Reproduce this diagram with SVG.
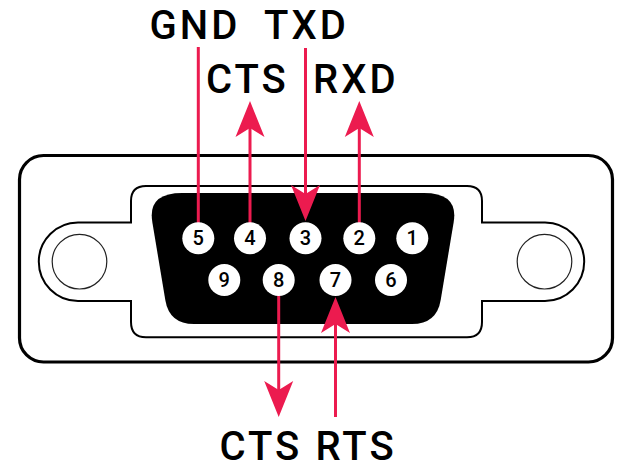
<svg xmlns="http://www.w3.org/2000/svg" width="620" height="468" viewBox="0 0 620 468">
  <style>
    .lbl { font-family: Roboto, "Liberation Sans", sans-serif; font-weight: 500; font-size: 40px; letter-spacing: 3px; fill: #000; }
    .pin circle { fill: #fff; }
    .pin text { font-family: Roboto, "Liberation Sans", sans-serif; font-weight: 500; font-size: 20px; fill: #000; text-anchor: middle; }
    .wire { stroke: #EC1B4F; stroke-width: 3; fill: none; }
  </style>
  <defs>
    <marker id="arr" markerUnits="userSpaceOnUse" markerWidth="40" markerHeight="32" viewBox="-10 -16 40 32" refX="0" refY="0" orient="auto" overflow="visible">
      <path d="M27,0 L-9,14.5 L0,0 L-9,-14.5 Z" fill="#EC1B4F"/>
    </marker>
  </defs>

  <g id="shell">
    <rect x="19.5" y="155.5" width="593" height="206.5" rx="24" ry="24" fill="#fff" stroke="#000" stroke-width="3.2"/>
  </g>
  <g id="flange">
    <path d="M146 186 L467 186 Q482 186 482 201 L482 222.5 L545 222.5 A39.2 39.2 0 0 1 545 300.9 L482 300.9 L482 322 Q482 337.3 467 337.3 L146 337.3 Q131 337.3 131 322 L131 300.9 L78 300.9 A39.2 39.2 0 0 1 78 222.5 L131 222.5 L131 201 Q131 186 146 186 Z" fill="#fff" stroke="#000" stroke-width="2"/>
    <circle cx="79.5" cy="261.7" r="27.3" fill="#fff" stroke="#222" stroke-width="1.2"/>
    <circle cx="544.5" cy="261.7" r="27.3" fill="#fff" stroke="#222" stroke-width="1.2"/>
  </g>
  <g id="d-sub">
    <path d="M182 193 L424 193 Q458.5 193 453.7 222 L440.7 300 Q436.7 324 412 324 L194 324 Q169.3 324 165.3 300 L152.3 222 Q147.5 193 182 193 Z" fill="#000"/>
  </g>

  <g id="connectors">
    <line class="wire" x1="198.3" y1="47" x2="198.3" y2="223"/>
    <line class="wire" x1="250" y1="223" x2="250" y2="128" marker-end="url(#arr)"/>
    <line class="wire" x1="305.5" y1="48" x2="305.5" y2="194" marker-end="url(#arr)"/>
    <line class="wire" x1="359.3" y1="223" x2="359.3" y2="128" marker-end="url(#arr)"/>
    <line class="wire" x1="278.7" y1="295" x2="278.7" y2="390" marker-end="url(#arr)"/>
    <line class="wire" x1="335.5" y1="417" x2="335.5" y2="324" marker-end="url(#arr)"/>
  </g>

  <g id="pin5" class="pin"><circle cx="198.3" cy="238.3" r="16"/><text x="198.3" y="245.4">5</text></g>
  <g id="pin4" class="pin"><circle cx="250" cy="238.3" r="16"/><text x="250" y="245.4">4</text></g>
  <g id="pin3" class="pin"><circle cx="305.5" cy="238.3" r="16"/><text x="305.5" y="245.4">3</text></g>
  <g id="pin2" class="pin"><circle cx="359.3" cy="238.3" r="16"/><text x="359.3" y="245.4">2</text></g>
  <g id="pin1" class="pin"><circle cx="412.3" cy="238.3" r="16"/><text x="412.3" y="245.4">1</text></g>
  <g id="pin9" class="pin"><circle cx="224.3" cy="280" r="16"/><text x="224.3" y="287.1">9</text></g>
  <g id="pin8" class="pin"><circle cx="278.7" cy="280" r="16"/><text x="278.7" y="287.1">8</text></g>
  <g id="pin7" class="pin"><circle cx="335.5" cy="280" r="16"/><text x="335.5" y="287.1">7</text></g>
  <g id="pin6" class="pin"><circle cx="391" cy="280" r="16"/><text x="391" y="287.1">6</text></g>

  <g id="label-gnd"><text class="lbl" x="149.5" y="39.3">GND</text></g>
  <g id="label-txd"><text class="lbl" x="264" y="39.3">TXD</text></g>
  <g id="label-cts-top"><text class="lbl" x="206" y="93.3">CTS</text></g>
  <g id="label-rxd"><text class="lbl" x="313" y="93.3">RXD</text></g>
  <g id="label-cts-bottom"><text class="lbl" x="219.5" y="459.5">CTS</text></g>
  <g id="label-rts"><text class="lbl" x="315.5" y="459.5">RTS</text></g>
</svg>
